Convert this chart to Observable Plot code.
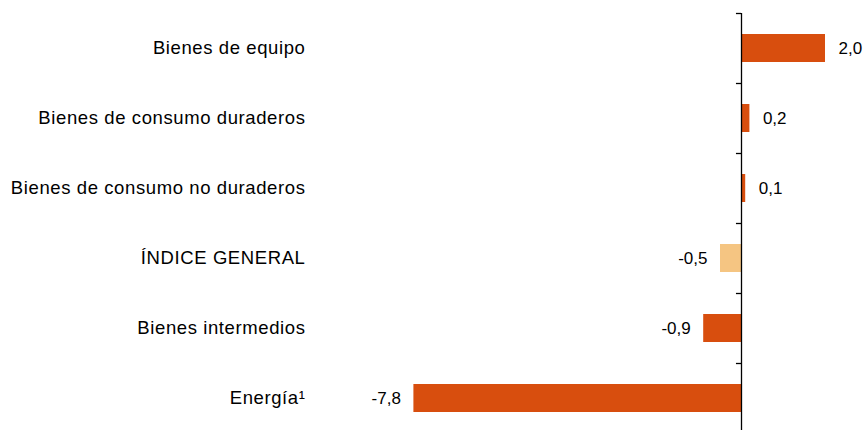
<!DOCTYPE html>
<html>
<head>
<meta charset="utf-8">
<script src="https://cdn.jsdelivr.net/npm/d3@7"></script>
<script src="https://cdn.jsdelivr.net/npm/@observablehq/plot@0.6"></script>
<style>
  html, body { margin: 0; padding: 0; background: #ffffff; }
  #chart svg { display: block; font-family: "Liberation Sans", Arial, sans-serif; }
</style>
</head>
<body>
<div id="chart"></div>
<script>
const categories = ["Bienes de equipo", "Bienes de consumo duraderos", "Bienes de consumo no duraderos", "ÍNDICE GENERAL", "Bienes intermedios", "Energía¹"];
const values = [2.0, 0.2, 0.1, -0.5, -0.9, -7.8];
const valueLabels = ["2,0", "0,2", "0,1", "-0,5", "-0,9", "-7,8"];
const highlightCategory = "ÍNDICE GENERAL";

const data = categories.map((c, i) => ({cat: c, value: values[i], label: valueLabels[i]}));
const mainColor = "#d84e0e";
const lightColor = "#f5c582";

const chart = Plot.plot({
  width: 864,
  height: 430,
  marginLeft: 405,
  marginRight: 18,
  marginTop: 13,
  marginBottom: -3,
  x: {domain: [-8, 2.5], axis: null},
  y: {domain: categories, paddingInner: 0.6, paddingOuter: 0.3, axis: null},
  style: {background: "#ffffff", fontFamily: "\"Liberation Sans\", Arial, sans-serif"},
  marks: [
    Plot.barX(data, {
      x: "value", y: "cat",
      fill: d => d.cat === highlightCategory ? lightColor : mainColor
    }),
    Plot.ruleX([0], {stroke: "#000", strokeWidth: 1.3}),
    Plot.ruleY(data, {y: "cat", x1: -0.12, x2: 0, dy: -35, stroke: "#000", strokeWidth: 1.3}),
    Plot.text(data, {
      y: "cat", text: "cat", frameAnchor: "left", dx: -100,
      textAnchor: "end", fontSize: 18.5, fill: "#000"
    }),
    Plot.text(data.filter(d => d.value >= 0), {
      x: "value", y: "cat", text: "label", textAnchor: "start", dx: 13, fontSize: 17, fill: "#000"
    }),
    Plot.text(data.filter(d => d.value < 0), {
      x: "value", y: "cat", text: "label", textAnchor: "end", dx: -13, fontSize: 17, fill: "#000"
    })
  ]
});
const textGroups = chart.querySelectorAll("g[aria-label='text']");
if (textGroups.length) textGroups[0].setAttribute("letter-spacing", "0.6");
document.getElementById("chart").appendChild(chart);
</script>
</body>
</html>
